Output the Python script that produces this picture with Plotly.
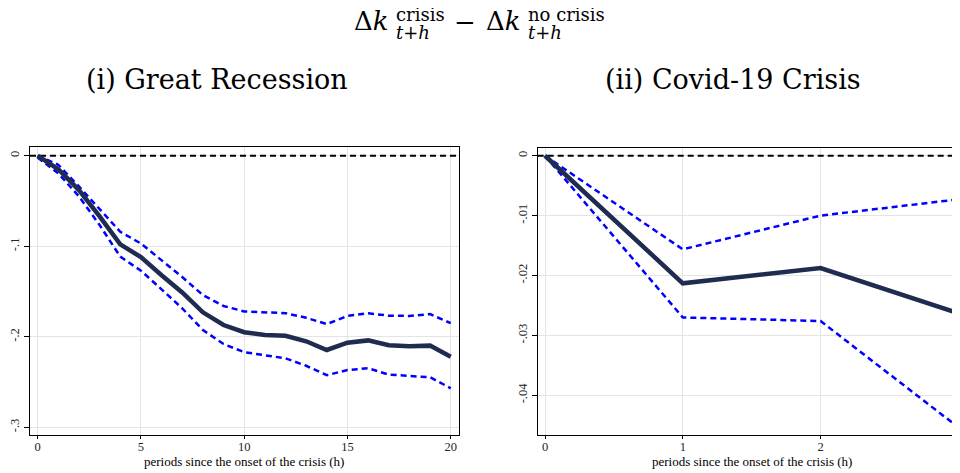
import plotly.graph_objects as go

# Great Recession: h = 0..20
h_gr = list(range(21))
gr_mid = [0.0, -0.015, -0.038, -0.067, -0.098, -0.112, -0.132, -0.151, -0.173, -0.187, -0.195,
          -0.198, -0.199, -0.205, -0.2146, -0.2065, -0.204, -0.2094, -0.2105, -0.2098, -0.222]
gr_up = [0.0, -0.010, -0.034, -0.059, -0.084, -0.097, -0.115, -0.134, -0.154, -0.166, -0.172,
         -0.1733, -0.174, -0.179, -0.186, -0.177, -0.174, -0.1767, -0.177, -0.175, -0.185]
gr_lo = [-0.002, -0.0195, -0.045, -0.0766, -0.1115, -0.127, -0.1476, -0.1686, -0.1925, -0.208, -0.217,
         -0.220, -0.2238, -0.232, -0.2425, -0.2367, -0.2348, -0.2418, -0.243, -0.2447, -0.2569]

# Covid-19 crisis: h = 0..3
h_cv = [0, 1, 2, 3]
cv_mid = [0.0, -0.0213, -0.01875, -0.0263]
cv_up = [0.0, -0.01563, -0.0100, -0.00728]
cv_lo = [0.0, -0.0270, -0.0276, -0.04535]

gr_yticks = [0, -0.1, -0.2, -0.3]
gr_ylabels = ["0", "-.1", "-.2", "-.3"]
gr_xticks = [0, 5, 10, 15, 20]
cv_yticks = [0, -0.01, -0.02, -0.03, -0.04]
cv_ylabels = ["0", "-.01", "-.02", "-.03", "-.04"]
cv_xticks = [0, 1, 2, 3]

# the page body has an 8px margin, so the figure is 8px smaller and all
# page positions below are shifted by OFF
OFF = 8
W, H = 960 - OFF, 473 - OFF
NAVY = "#1f2c4f"
BLUE = "#0000ff"
SERIF = "Liberation Serif"
TITLE_SERIF = "DejaVu Serif"


def fx(px):
    return (px - OFF) / W


def fy(py):
    return 1 - (py - OFF) / H


fig = go.Figure()


def add_panel(x, mid, up, lo, xr, xa, ya):
    fig.add_trace(go.Scatter(x=xr, y=[0, 0], mode="lines", xaxis=xa, yaxis=ya,
                             line=dict(color="black", width=2, dash="6px,4px"), hoverinfo="skip"))
    for band in (up, lo):
        fig.add_trace(go.Scatter(x=x, y=band, mode="lines", xaxis=xa, yaxis=ya,
                                 line=dict(color=BLUE, width=2.5, dash="6px,4px")))
    fig.add_trace(go.Scatter(x=x, y=mid, mode="lines", xaxis=xa, yaxis=ya,
                             line=dict(color=NAVY, width=4.5)))


gr_xrange = [-0.37, 20.4]
cv_xrange = [-0.053, 3.012]
add_panel(h_gr, gr_mid, gr_up, gr_lo, gr_xrange, "x", "y")
add_panel(h_cv, cv_mid, cv_up, cv_lo, [-0.053, 3.1], "x2", "y2")

tickfont = dict(family=SERIF, size=12.5, color="#222")
common_x = dict(showgrid=True, gridcolor="#e4e4e4", gridwidth=1, zeroline=False, automargin=False,
                showline=True, linecolor="black", linewidth=1.3, mirror=True,
                ticks="outside", ticklen=3, tickcolor="black", tickfont=tickfont,
                ticklabelstandoff=-3)
common_y = dict(showgrid=True, gridcolor="#e4e4e4", gridwidth=1, zeroline=False, automargin=False,
                showline=True, linecolor="black", linewidth=1.3,
                ticks="outside", ticklen=5, tickcolor="black", tickfont=tickfont, tickangle=-90)

fig.update_layout(
    width=W, height=H, showlegend=False,
    paper_bgcolor="white", plot_bgcolor="white",
    margin=dict(l=0, r=0, t=0, b=0, autoexpand=False),
    xaxis=dict(common_x, domain=[fx(30), fx(459)], range=gr_xrange, tickvals=gr_xticks),
    yaxis=dict(common_y, domain=[fy(435), fy(147)], range=[-0.3085, 0.0096],
               tickvals=gr_yticks, ticktext=gr_ylabels, mirror=True),
    xaxis2=dict(common_x, domain=[fx(537.7), 1.0], range=cv_xrange, tickvals=cv_xticks,
                anchor="y2"),
    yaxis2=dict(common_y, domain=[fy(435), fy(148)], range=[-0.04663, 0.00129],
                tickvals=cv_yticks, ticktext=cv_ylabels, anchor="x2", mirror=False),
)


def text(s, px, py, size, anchor="center", family=TITLE_SERIF):
    fig.add_annotation(text=s, x=fx(px), y=fy(py), xref="paper", yref="paper",
                       xanchor=anchor, yanchor="middle", showarrow=False, borderpad=0,
                       font=dict(family=family, size=size, color="black"))


# main title built from pieces: Δk^crisis_{t+h} − Δk^{no crisis}_{t+h}
text("Δ<i>k</i>", 353, 21, 26, "left")
text("crisis", 395, 14, 18, "left")
text("<i>t</i>+<i>h</i>", 395, 32, 18, "left")
text("−", 465, 22, 26)
text("Δ<i>k</i>", 485, 21, 26, "left")
text("no crisis", 527, 14, 18, "left")
text("<i>t</i>+<i>h</i>", 527, 32, 18, "left")

text("(i) Great Recession", 217, 80, 27)
text("(ii) Covid-19 Crisis", 733, 80, 27)

text("periods since the onset of the crisis (h)", 244, 461, 13, family=SERIF)
text("periods since the onset of the crisis (h)", 752, 461, 13, family=SERIF)

fig.write_html("out.html")
